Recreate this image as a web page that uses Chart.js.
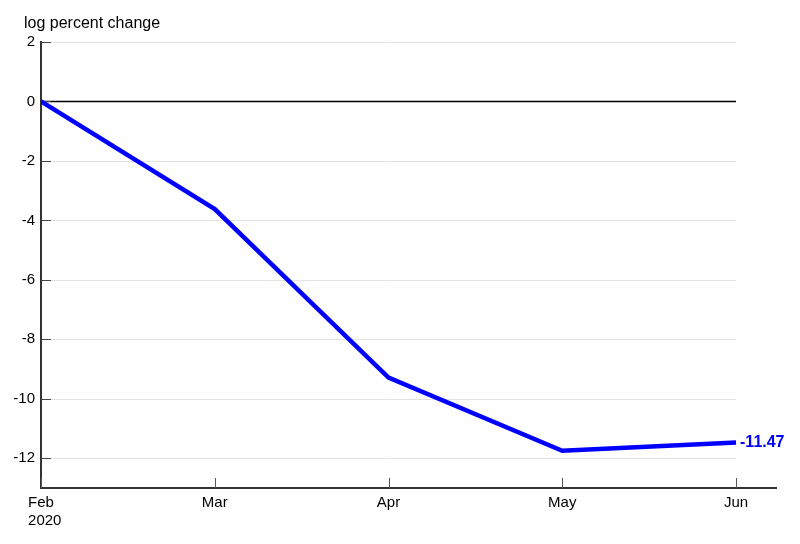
<!DOCTYPE html>
<html>
<head>
<meta charset="utf-8">
<script src="https://cdn.jsdelivr.net/npm/chart.js@4"></script>
<style>
  html, body { margin: 0; padding: 0; background: #fff; }
  #wrap { width: 800px; height: 544px; }
</style>
</head>
<body>
<div id="wrap"><canvas id="myChart"></canvas></div>
<script>
var months = ["Feb", "Mar", "Apr", "May", "Jun"];
var firstYear = "2020";
var values = [0, -3.62, -9.29, -11.75, -11.47];
var yTicks = [2, 0, -2, -4, -6, -8, -10, -12];
var endLabel = "-11.47";

var FONT = "'Liberation Sans', Arial, sans-serif";
var TICK_SIZE = 15;

// gridlines, inward ticks, zero line, end label and axis title
var extras = {
  id: "extras",
  beforeDatasetsDraw: function(chart) {
    var c = chart.ctx, x = chart.scales.x, y = chart.scales.y;
    var left = x.getPixelForValue(0), right = x.getPixelForValue(months.length - 1);
    c.save();
    yTicks.forEach(function(v) {
      var py = Math.round(y.getPixelForValue(v)) + 0.5;
      c.strokeStyle = v === 0 ? "#000" : "#e3e3e3";
      c.lineWidth = v === 0 ? 1.5 : 1;
      c.beginPath(); c.moveTo(left, py); c.lineTo(right, py); c.stroke();
      c.strokeStyle = "#444"; c.lineWidth = 1;
      c.beginPath(); c.moveTo(left, py); c.lineTo(left + 10, py); c.stroke();
    });
    var bottom = y.getPixelForValue(y.min);
    months.forEach(function(m, i) {
      var px = Math.round(x.getPixelForValue(i)) + 0.5;
      c.strokeStyle = "#555"; c.lineWidth = 1;
      c.beginPath(); c.moveTo(px, bottom); c.lineTo(px, bottom - 10); c.stroke();
    });
    c.restore();
  },
  afterDraw: function(chart) {
    var c = chart.ctx, x = chart.scales.x, y = chart.scales.y;
    var pt = chart.getDatasetMeta(0).data[values.length - 1];
    c.save();
    c.fillStyle = "#0000ff";
    c.font = "bold 16px " + FONT;
    c.textAlign = "left"; c.textBaseline = "middle";
    c.fillText(endLabel, pt.x + 4, pt.y);
    c.fillStyle = "#000";
    c.font = "16px " + FONT;
    c.textBaseline = "alphabetic";
    c.fillText("log percent change", 24, 28);
    // year under the first month, left-aligned with it
    c.font = TICK_SIZE + "px " + FONT;
    var fx = x.getPixelForValue(0) - c.measureText(months[0]).width / 2;
    c.textBaseline = "middle";
    c.fillText(firstYear, fx, y.getPixelForValue(y.min) + 33);
    c.restore();
  }
};

new Chart(document.getElementById("myChart"), {
  type: "line",
  data: {
    datasets: [{
      data: values.map(function(v, i) { return { x: i, y: v }; }),
      borderColor: "#0000ff",
      borderWidth: 4.5,
      pointRadius: 0,
      tension: 0,
      fill: false
    }]
  },
  options: {
    responsive: true,
    maintainAspectRatio: false,
    animation: false,
    layout: { padding: { top: 42, right: 24, left: 0, bottom: 0 } },
    plugins: { legend: { display: false }, tooltip: { enabled: false } },
    scales: {
      x: {
        type: "linear",
        min: 0,
        max: 4.23,
        afterBuildTicks: function(s) { s.ticks = months.map(function(m, i) { return { value: i }; }); },
        afterFit: function(s) { s.height = 56; },
        grid: { display: false, drawTicks: false },
        border: { display: true, color: "#333", width: 2 },
        ticks: {
          color: "#000",
          padding: 6,
          maxRotation: 0,
          font: { family: FONT, size: TICK_SIZE },
          callback: function(v) { return months[v]; }
        }
      },
      y: {
        min: -13,
        max: 2,
        afterBuildTicks: function(s) { s.ticks = yTicks.map(function(v) { return { value: v }; }); },
        afterFit: function(s) { s.width = 41; },
        grid: { display: false, drawTicks: false },
        border: { display: true, color: "#333", width: 2 },
        ticks: {
          color: "#000",
          padding: 6,
          font: { family: FONT, size: TICK_SIZE }
        }
      }
    }
  },
  plugins: [extras]
});
</script>
</body>
</html>
